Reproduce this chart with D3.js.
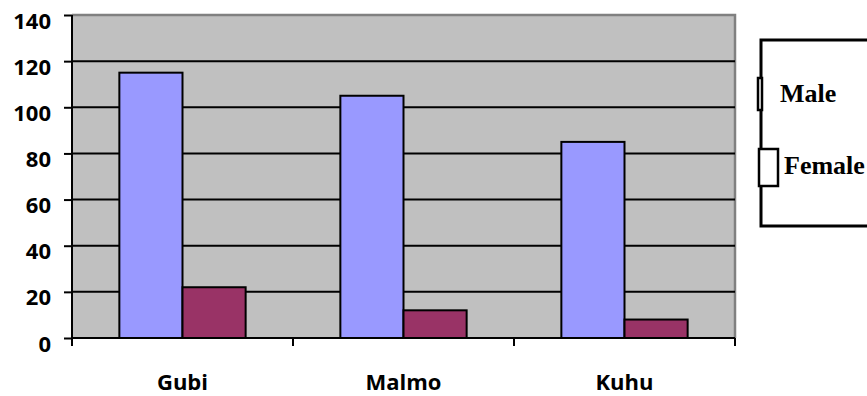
<!DOCTYPE html>
<html>
<head>
<meta charset="utf-8">
<script src="https://cdn.jsdelivr.net/npm/d3@7/dist/d3.min.js"></script>
<style>
  html, body { margin: 0; padding: 0; background: #fff; }
  svg { display: block; }
</style>
</head>
<body>
<svg id="chart" width="867" height="396"></svg>
<script>
// Chart data
const categories = ["Gubi", "Malmo", "Kuhu"];
const seriesNames = ["Male", "Female"];
const maleValues = [115, 105, 85];
const femaleValues = [22, 12, 8];
const yTicks = [0, 20, 40, 60, 80, 100, 120, 140];

const colors = { Male: "#9999FF", Female: "#993366" };
const svg = d3.select("#chart");

const plot = { left: 72, right: 735, top: 15, bottom: 338 };

const x = d3.scaleBand()
  .domain(categories)
  .range([plot.left, plot.right])
  .paddingInner(0)
  .paddingOuter(0);

const y = d3.scaleLinear()
  .domain([0, 140])
  .range([plot.bottom, plot.top]);

// Bars occupy 2 slots out of 3.5 in each category (gap width 150%)
const barW = x.bandwidth() / 3.5;
const gapHalf = x.bandwidth() * 0.75 / 3.5;

// Plot area background
svg.append("rect")
  .attr("x", plot.left).attr("y", plot.top)
  .attr("width", plot.right - plot.left)
  .attr("height", plot.bottom - plot.top)
  .attr("fill", "#C0C0C0");

// Grey frame on top and right sides
svg.append("path")
  .attr("d", `M${plot.left},${plot.top}H${plot.right}V${plot.bottom}`)
  .attr("fill", "none")
  .attr("stroke", "#808080")
  .attr("stroke-width", 2.5);

// Horizontal gridlines
svg.append("g")
  .selectAll("line")
  .data(yTicks.filter(t => t > 0 && t < 140))
  .join("line")
  .attr("x1", plot.left).attr("x2", plot.right)
  .attr("y1", d => y(d)).attr("y2", d => y(d))
  .attr("stroke", "#000").attr("stroke-width", 2);

// Bars
const rows = categories.map((c, i) => ({ cat: c, Male: maleValues[i], Female: femaleValues[i] }));
const barG = svg.append("g");
seriesNames.forEach((s, si) => {
  barG.selectAll(null)
    .data(rows)
    .join("rect")
    .attr("x", d => x(d.cat) + gapHalf + si * barW)
    .attr("y", d => y(d[s]))
    .attr("width", barW)
    .attr("height", d => y(0) - y(d[s]))
    .attr("fill", colors[s])
    .attr("stroke", "#000")
    .attr("stroke-width", 2);
});

// Y axis
const yAxis = d3.axisLeft(y)
  .tickValues(yTicks)
  .tickSize(8)
  .tickPadding(13);
const yg = svg.append("g")
  .attr("transform", `translate(${plot.left},0)`)
  .call(yAxis);
yg.select(".domain").remove();
yg.append("line")
  .attr("x1", 0).attr("x2", 0)
  .attr("y1", plot.top).attr("y2", plot.bottom)
  .attr("stroke", "#000").attr("stroke-width", 2);
yg.selectAll(".tick line").attr("stroke", "#000").attr("stroke-width", 2);
yg.selectAll(".tick text")
  .attr("fill", "#000")
  .attr("dy", "0.32em")
  .attr("y", 6)
  .style("font-family", "'Open Sans', sans-serif")
  .style("font-weight", "bold")
  .style("font-size", "22px");

// X axis with ticks at category boundaries
const boundaries = categories.map(c => x(c)).concat([plot.right]);
const xg = svg.append("g");
xg.append("line")
  .attr("x1", plot.left).attr("x2", plot.right)
  .attr("y1", plot.bottom).attr("y2", plot.bottom)
  .attr("stroke", "#000").attr("stroke-width", 2);
xg.selectAll(".xtick")
  .data(boundaries)
  .join("line")
  .attr("class", "xtick")
  .attr("x1", d => d).attr("x2", d => d)
  .attr("y1", plot.bottom).attr("y2", plot.bottom + 8)
  .attr("stroke", "#000").attr("stroke-width", 2);
xg.selectAll(".xlabel")
  .data(categories)
  .join("text")
  .attr("class", "xlabel")
  .attr("x", d => x(d) + x.bandwidth() / 2)
  .attr("y", 390)
  .attr("text-anchor", "middle")
  .style("font-family", "'Open Sans', sans-serif")
  .style("font-weight", "bold")
  .style("font-size", "22px")
  .text(d => d);

// Legend
const legend = svg.append("g");
legend.append("path")
  .attr("d", "M880,40H761V226H880")
  .attr("fill", "none")
  .attr("stroke", "#000")
  .attr("stroke-width", 3);
const legendItems = [
  { name: seriesNames[0], sx: 758, sy: 78, sw: 4, sh: 32, tx: 780, ty: 102 },
  { name: seriesNames[1], sx: 759, sy: 149, sw: 19, sh: 37, tx: 784, ty: 174 }
];
legend.selectAll("rect")
  .data(legendItems)
  .join("rect")
  .attr("x", d => d.sx).attr("y", d => d.sy)
  .attr("width", d => d.sw).attr("height", d => d.sh)
  .attr("fill", "#fff")
  .attr("stroke", "#000")
  .attr("stroke-width", 2.5);
legend.selectAll("text")
  .data(legendItems)
  .join("text")
  .attr("x", d => d.tx).attr("y", d => d.ty)
  .style("font-family", "'Liberation Serif', 'Times New Roman', serif")
  .style("font-weight", "bold")
  .style("font-size", "26px")
  .text(d => d.name);
</script>
</body>
</html>
